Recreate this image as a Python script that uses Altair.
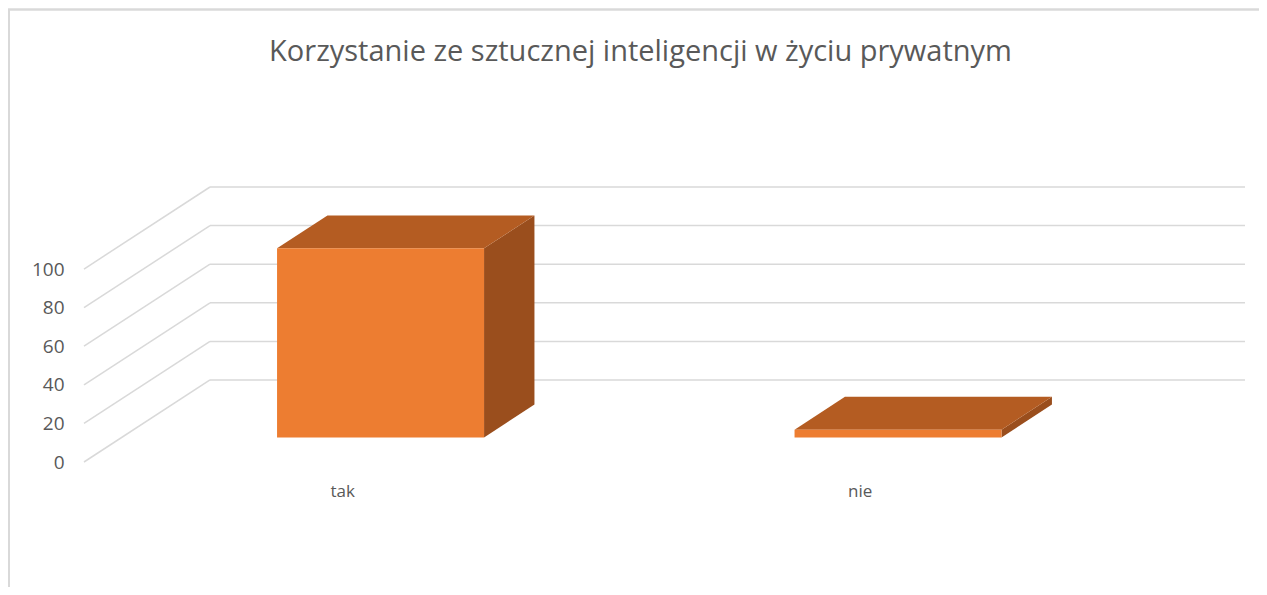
import altair as alt
import pandas as pd

# ---- data ----
categories = ["tak", "nie"]
values = [98, 4]
y_ticks = [0, 20, 40, 60, 80, 100]
title_text = "Korzystanie ze sztucznej inteligencji w życiu prywatnym"

# ---- pseudo-3D geometry (style constants, in data units) ----
BAR_W = 0.4          # bar width as a fraction of a category slot
DEPTH_X = 0.2435     # horizontal shift of the back wall (category units)
DEPTH_Y = 42.5       # vertical shift of the back wall (value units)
Z0, Z1 = 0.3, 0.7    # bar front / back position within the depth
X_MAX = len(categories) + DEPTH_X
Y_MAX = max(y_ticks) + DEPTH_Y

xs = alt.Scale(domain=[0, X_MAX], nice=False, zero=False)
ys = alt.Scale(domain=[0, Y_MAX], nice=False, zero=False)

FONT = "Open Sans"
TXT = "#595959"
GRID = "#d9d9d9"
C_FRONT = "#ED7D31"
C_TOP = "#B45C22"
C_SIDE = "#9A4E1D"

# gridlines: back-wall horizontals + left-wall diagonals
grid_rows = []
for v in y_ticks:
    grid_rows.append(dict(x1=DEPTH_X, y1=v + DEPTH_Y, x2=len(categories) + DEPTH_X, y2=v + DEPTH_Y))
    grid_rows.append(dict(x1=0, y1=v, x2=DEPTH_X, y2=v + DEPTH_Y))
grid_df = pd.DataFrame(grid_rows)

bars = pd.DataFrame({"category": categories, "value": values, "idx": range(len(categories))})
bars["c"] = bars["idx"] + 0.5

front = bars.assign(
    fx=bars.c - BAR_W / 2 + Z0 * DEPTH_X,
    fx2=bars.c + BAR_W / 2 + Z0 * DEPTH_X,
    fy=Z0 * DEPTH_Y,
    fy2=bars.value + Z0 * DEPTH_Y,
)

edges = []
for _, r in bars.iterrows():
    for z in (Z0, Z1):
        edges.append(dict(
            category=r.category,
            # top face (horizontal area)
            ty=r.value + z * DEPTH_Y,
            tx=r.c - BAR_W / 2 + z * DEPTH_X,
            tx2=r.c + BAR_W / 2 + z * DEPTH_X,
            # side face (vertical area)
            sx=r.c + BAR_W / 2 + z * DEPTH_X,
            sy=z * DEPTH_Y,
            sy2=r.value + z * DEPTH_Y,
        ))
edge_df = pd.DataFrame(edges)

grid = alt.Chart(grid_df).mark_rule(color=GRID, strokeWidth=1.5).encode(
    x=alt.X("x1:Q", scale=xs, axis=None),
    y=alt.Y("y1:Q", scale=ys,
            axis=alt.Axis(values=y_ticks, domain=False, ticks=False, grid=False,
                          labelPadding=20, labelFontSize=19, labelFont=FONT,
                          labelColor=TXT, title=None)),
    x2="x2:Q",
    y2="y2:Q",
)

side = alt.Chart(edge_df).mark_area(color=C_SIDE, orient="vertical").encode(
    x=alt.X("sx:Q", scale=xs),
    y=alt.Y("sy:Q", scale=ys),
    y2="sy2:Q",
    detail="category:N",
)

top = alt.Chart(edge_df).mark_area(color=C_TOP, orient="horizontal").encode(
    y=alt.Y("ty:Q", scale=ys),
    x=alt.X("tx:Q", scale=xs),
    x2="tx2:Q",
    detail="category:N",
)

front_face = alt.Chart(front).mark_rect(color=C_FRONT).encode(
    x=alt.X("fx:Q", scale=xs),
    x2="fx2:Q",
    y=alt.Y("fy:Q", scale=ys),
    y2="fy2:Q",
)

labels = alt.Chart(bars).mark_text(font=FONT, fontSize=17, color=TXT, dy=30).encode(
    x=alt.X("c:Q", scale=xs),
    y=alt.Y("zero:Q", scale=ys),
    text="category:N",
).transform_calculate(zero="0")

border_l = alt.Chart(bars).mark_rule(color=GRID, strokeWidth=2).encode(
    x=alt.value(-75), y=alt.value(-178), y2=alt.value(400))
border_t = alt.Chart(bars).mark_rule(color=GRID, strokeWidth=2).encode(
    x=alt.value(-76), x2=alt.value(1175), y=alt.value(-177.5))

chart = alt.layer(border_l, border_t, grid, side, top, front_face, labels).properties(
    width=1161,
    height=275,
    title=alt.TitleParams(title_text, font=FONT, fontSize=29, fontWeight="normal",
                          color=TXT, anchor="middle", dx=-24, offset=-88,
                          baseline="bottom"),
    autosize=alt.AutoSizeParams(type="none"),
    padding={"left": 76, "top": 179, "right": 14, "bottom": 125},
).configure(background="white").configure_view(stroke=None)

chart.save("out.html", embed_options={"renderer": "svg", "actions": False})
